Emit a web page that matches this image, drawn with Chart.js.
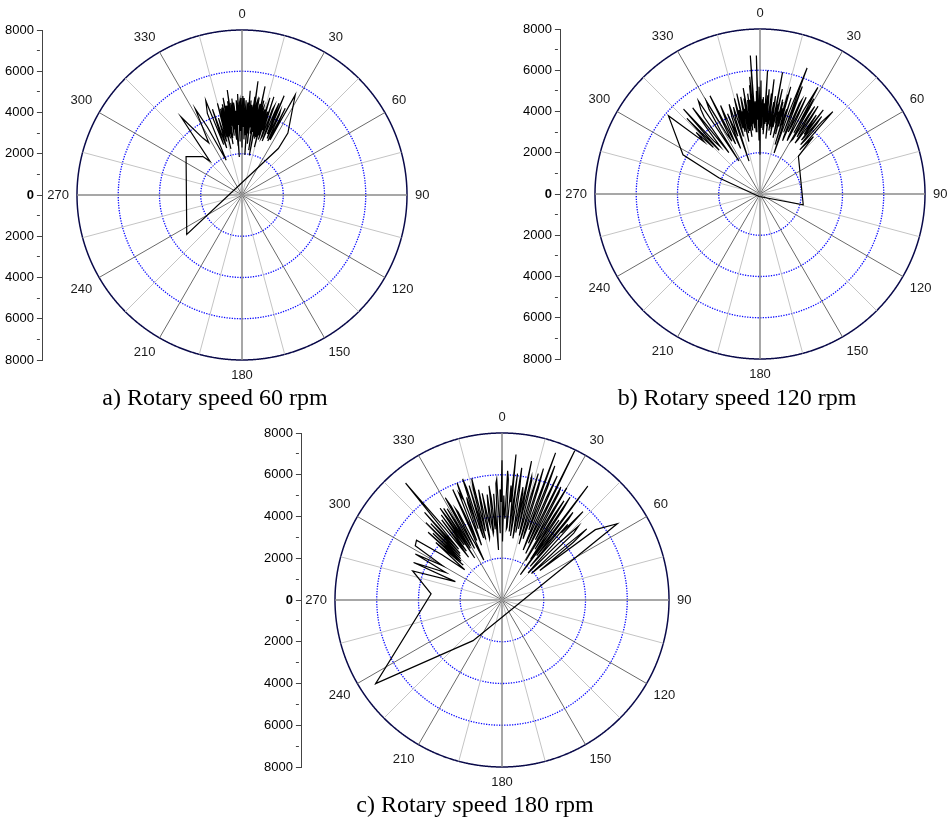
<!DOCTYPE html>
<html>
<head>
<meta charset="utf-8">
<script src="https://cdn.jsdelivr.net/npm/chart.js@4.4.1/dist/chart.umd.min.js"></script>
<style>
  body { margin: 0; width: 950px; height: 821px; background: #fff; position: relative; overflow: hidden; }
  canvas { position: absolute; }
  .caption {
    position: absolute; transform: translateX(-50%); white-space: nowrap;
    font-family: "Liberation Serif", "Times New Roman", serif; font-size: 24px; line-height: 24px; color: #000;
  }
</style>
</head>
<body>
<canvas id="polarA" width="420" height="420"></canvas>
<canvas id="polarB" width="420" height="420"></canvas>
<canvas id="polarC" width="420" height="420"></canvas>
<canvas id="axisA"></canvas>
<canvas id="axisB"></canvas>
<canvas id="axisC"></canvas>
<div class="caption" style="left:215px; top:385px;">a) Rotary speed 60 rpm</div>
<div class="caption" style="left:737px; top:385px;">b) Rotary speed 120 rpm</div>
<div class="caption" style="left:475px; top:792px;">c) Rotary speed 180 rpm</div>
<script>
// angle labels around each dial, and the rings drawn on it
const angleTicks = ['0', '30', '60', '90', '120', '150', '180', '210', '240', '270', '300', '330'];
const ringValues = [2000, 4000, 6000, 8000];

// 60 rpm: angle (deg) / force
const angA = [234.5, 304.5, 314.5, 316.5, 322, 325.5, 327.5, 331.5, 333, 335.5, 337, 339, 340, 341, 342, 343, 344,
  345, 345.5, 346, 346.5, 347, 347.5, 348, 348.5, 349, 349.5, 350, 350.5, 351, 351.5, 352, 352.5, 353, 353.5, 354, 354.5,
  355, 355.5, 356, 356.5, 357, 357.5, 358, 358.5, 359, 359.5,
  0, 0.5, 1, 1.5, 2, 2.5, 3, 3.5, 4, 4.5, 5, 5.5, 6, 6.5, 7, 7.5, 8, 8.5, 9, 9.5,
  10, 10.5, 11, 11.5, 12, 12.5, 13, 13.5, 14, 14.5, 15, 15.5, 16, 16.5, 17, 17.5, 18,
  18.5, 19, 19.5, 20, 20.5, 21, 21.5, 22, 22.5, 23, 23.5, 24, 24.5, 25, 25.5, 26, 26.5, 27, 27.5, 28, 36.5, 38];
const forceA = [3290, 3290, 2660, 2250, 4800, 3350, 3000, 4750, 3700, 1850, 4300, 4900, 2600, 4400, 2400, 3900, 2700,
  4600, 2900, 4300, 2300, 4350, 3100, 4000, 2800, 4800, 3300, 2500, 4400, 3000, 4200, 5140, 2900, 4500, 3200, 4700, 2700,
  4300, 2400, 1850, 4600, 3400, 4900, 2600, 4500, 3100, 4700,
  2300, 4800, 3300, 4400, 2700, 4600, 3500, 4400, 1950, 5070, 3000, 4600, 2500, 4300, 3300, 4800, 5570, 2200, 4500, 3100,
  4800, 1950, 4200, 2900, 5380, 2800, 4700, 3200, 4400, 2400, 4300, 3000, 4900, 2800, 4200, 3300, 5000,
  2900, 3000, 4400, 4600, 2800, 3300, 4300, 4800, 3200, 5230, 3300, 3000, 4500, 4300, 2900, 3100, 4700, 3000, 4000, 5500, 3740, 2860];
// 60 rpm, quarter-degree samples in the dense core
const coreAngA = [346.25, 346.75, 347.25, 347.75, 348.25, 348.75, 349.25, 349.75, 350.25, 350.75,
  351.25, 351.75, 352.25, 352.75, 353.25, 353.75, 354.25, 354.75, 355.25, 355.75,
  356.25, 356.75, 357.25, 357.75, 358.25, 358.75, 359.25, 359.75,
  0.25, 0.75, 1.25, 1.75, 2.25, 2.75, 3.25, 3.75, 4.25, 4.75, 5.25, 5.75, 6.25, 6.75, 7.25, 7.75, 8.25, 8.75,
  9.25, 9.75, 10.25, 10.75, 11.25, 11.75, 12.25, 12.75, 13.25, 13.75, 14.25, 14.75, 15.25, 15.75, 16.25, 16.75, 17.25, 17.75];
const coreForceA = [3800, 4100, 2900, 4500, 3600, 4200, 3000, 4400, 3700, 2800,
  4600, 3400, 4000, 3100, 4300, 3800, 2900, 4500, 3500, 4100,
  3000, 4400, 3600, 4200, 3300, 4600, 3700, 2900,
  4200, 3500, 4700, 3000, 4100, 3800, 2900, 4500, 3400, 4000, 3700, 2800, 4400, 3600, 4100, 3000, 4300, 3500,
  4600, 3200, 4000, 3700, 4500, 3100, 4200, 3600, 2900, 4300, 3500, 4100, 3300, 4400, 3700, 3100, 4200, 3400];

// 120 rpm
const angB = [0, 0.5, 1, 1.5, 2, 2.5, 3, 3.5, 4, 4.5, 5, 5.5, 6, 6.5, 7, 7.5, 8, 8.5, 9, 9.5,
  10, 10.5, 11, 11.5, 12, 12.5, 13, 13.5, 14, 14.5, 15, 15.5, 16, 16.5, 17, 17.5, 18, 18.5, 19,
  20.5, 21, 22, 23, 24, 25, 26, 27, 28.5, 29, 30, 31, 32, 33, 34, 35, 36.5, 37, 38, 39, 40, 41.5, 42, 43, 45.5,
  104, 200,
  291.5, 297, 310.5, 313, 318, 320, 322, 323, 325, 326.5, 327.5, 329, 331, 333, 334, 336, 337, 338, 339, 340, 341.5, 342, 343, 344,
  345, 345.5, 346, 346.5, 347, 347.5, 348, 348.5, 349, 349.5, 350, 350.5, 351, 351.5, 352, 352.5, 353, 353.5, 354, 354.5,
  355, 355.5, 356, 356.5, 357, 357.5, 358, 358.5, 359, 359.5];
const forceB = [1900, 5500, 3200, 4600, 4700, 3100, 2900, 6000, 3400, 4800, 5100, 3300, 2700, 4900, 5600, 3600, 3100, 4500, 4800, 3200,
  2900, 6000, 3300, 4400, 5200, 3500, 2800, 4700, 4600, 3000, 3500, 5000, 5400, 3400, 2500, 4300, 4900, 3100, 2100,
  6520, 3200, 4400, 2800, 5000, 3600, 4300, 2900, 5880, 3400, 4800, 3100, 5000, 3300, 4400, 3200, 3600, 5100, 3500, 4400, 3400, 5330, 2880, 3800, 2610,
  2160, 130,
  2150, 4190, 5840, 3700, 5540, 3000, 5300, 2510, 5000, 5410, 1900, 4800, 3300, 5340, 2700, 4700, 2400, 4200, 3000, 4000, 1680, 3800, 4400, 2900,
  4800, 3300, 4200, 3100, 5000, 3500, 2600, 4300, 4500, 3000, 3200, 4700, 5200, 3300, 2800, 4600, 4900, 3100, 3400, 5300,
  5700, 3600, 6730, 3000, 4500, 3800, 5000, 6720, 2600, 5200];
const coreAngB = [346.25, 346.75, 347.25, 347.75, 348.25, 348.75, 349.25, 349.75, 350.25, 350.75,
  351.25, 351.75, 352.25, 352.75, 353.25, 353.75, 354.25, 354.75, 355.25, 355.75,
  356.25, 356.75, 357.25, 357.75, 358.25, 358.75, 359.25, 359.75,
  0.25, 0.75, 1.25, 1.75, 2.25, 2.75, 3.25, 3.75, 4.25, 4.75, 5.25, 5.75, 6.25, 6.75, 7.25, 7.75, 8.25, 8.75,
  9.25, 9.75, 10.25, 10.75, 11.25, 11.75, 12.25, 12.75, 13.25, 13.75, 14.25, 14.75, 15.25, 15.75, 16.25, 16.75, 17.25, 17.75,
  19.5, 21.5, 22.5, 23.5, 24.5, 25.5, 26.5, 27.5, 29.5, 30.5, 31.5, 32.5, 33.5, 34.5, 35.5, 37.5, 38.5, 39.5, 40.5,
  314, 315, 316, 317, 319, 321, 324, 328, 330, 332, 335, 341, 344.5];
const coreForceB = [3900, 4400, 3200, 4100, 3700, 4800, 3400, 4200, 3800, 3100,
  4500, 3600, 4300, 3300, 4000, 4600, 3500, 4100, 3200, 4700,
  3800, 4300, 3000, 4400, 3600, 4000, 3700, 4500,
  3800, 4300, 3400, 4100, 3700, 4400, 3300, 4200, 3900, 3500, 4600, 3800, 4100, 3400, 4300, 3700, 4000, 3300,
  4500, 3900, 3500, 4200, 3800, 4400, 3600, 4100, 3300, 4000, 3700, 4300, 3400, 3900, 4200, 3600, 4000, 3500,
  4200, 5600, 3000, 4800, 3300, 5200, 3100, 4600, 5300, 3000, 4500, 3600, 5100, 3000, 4700, 3300, 4800, 3100, 4600,
  4300, 3200, 5100, 2900, 3400, 4000, 4600, 3600, 5200, 2900, 3800, 4600, 4100];

// 180 rpm
const angC = [0, 0.5, 1, 2, 3, 4, 5, 5.5, 6, 7, 8, 9, 10, 11, 12, 13, 14, 15, 16, 17, 18, 19,
  20, 21, 22, 23, 24, 25, 26, 27, 28, 29, 30, 31, 32, 33, 34, 35, 36, 37, 38, 39, 40, 41, 42.5, 43, 44,
  45, 46, 47, 48, 49, 50, 51, 52, 53, 56.5,
  215.5, 236.5, 275, 288, 291.5, 293, 296, 298, 300, 302, 305, 307, 309,
  311, 312, 314, 315, 317, 318, 320.5, 322, 323, 324, 326, 327, 329, 330, 331, 332, 333, 334, 335.5, 336, 337, 338, 339,
  340, 341, 342, 343, 344, 345, 346, 347, 348, 349, 350, 351, 352, 353, 354, 355, 356, 357, 358, 359];
const forceC = [6700, 2800, 5000, 3900, 5800, 3500, 4700, 7000, 3300, 6100, 3900, 5400, 3000, 5200, 6800, 3500, 5900, 3200, 6300, 2800, 5600, 3100,
  7500, 3600, 5800, 2600, 6500, 3000, 7950, 2500, 5800, 3300, 6200, 2200, 5600, 2900, 5200, 2400, 1500, 6830, 2700, 5400, 2100, 4800, 5740, 2400, 1800,
  3900, 5100, 4700, 1900, 2600, 5300, 4400, 2300, 5600, 6620,
  2390, 7260, 3410, 4500, 2400, 4600, 3000, 4700, 3300, 4900, 5000, 3600, 2300,
  4200, 2500, 4600, 2800, 5000, 3000, 7260, 2600, 4800, 2900, 5300, 2400, 5100, 3000, 5600, 2800, 4900, 3300, 2100, 5800, 3100, 5500, 6000,
  3400, 5200, 6100, 3500, 5700, 3000, 6000, 3900, 5400, 3100, 4400, 3600, 5100, 3300, 4900, 3800, 2400, 5600, 4000, 5300];
const coreAngC = [311.5, 312.5, 313.5, 314.5, 315.5, 316.5, 317.5, 318.5, 319.5, 321.5, 322.5,
  323.5, 324.5, 325.5, 326.5, 327.5, 328.5, 329.5, 330.5, 331.5, 332.5, 333.5, 334.5,
  336.5, 337.5, 338.5, 339.5, 340.5, 341.5, 342.5, 343.5, 344.5, 345.5, 346.5, 347.5, 348.5, 349.5,
  350.5, 351.5, 352.5, 353.5, 354.5, 355.5, 356.5, 357.5, 358.5, 359.5,
  1.5, 2.5, 3.5, 4.5, 6.5, 7.5, 8.5, 9.5, 10.5, 11.5, 12.5, 13.5, 14.5, 15.5, 16.5, 17.5, 18.5, 19.5, 20.5, 21.5,
  22.5, 23.5, 24.5, 25.5, 26.5, 27.5, 28.5, 29.5, 30.5, 31.5, 32.5, 33.5, 34.5, 35.5, 36.5, 37.5, 38.5, 39.5, 40.5, 41.5];
const coreForceC = [3300, 4800, 2700, 3600, 5200, 2900, 4100, 5600, 3200, 4400, 3100,
  3500, 5000, 3200, 4600, 5200, 2900, 4400, 3300, 5100, 3600, 4700, 3000,
  4500, 3700, 5300, 2800, 4900, 3600, 5600, 3100, 4300, 5500, 3400, 4800, 3000, 5200,
  3800, 4600, 3200, 5500, 3400, 5100, 3600, 5800, 3200, 4700,
  4200, 6200, 3400, 5500, 4600, 3100, 6400, 3700, 5500, 3300, 4900, 6100, 3600, 5200, 3800, 6600, 3400, 5000, 3900, 6900,
  3200, 5400, 3700, 4600, 3500, 6100, 3900, 5000, 3100, 4800, 3600, 5900, 3000, 4700, 2900, 4100, 3300, 5000, 2600, 4300];

Chart.defaults.font.family = '"Liberation Sans", Arial, sans-serif';
Chart.defaults.color = '#1a1a1a';

const PER_DEG = 4;              // quarter-degree slots around the dial
const STEPS = 360 * PER_DEG;

function buildRing(angles, forces) {
  const ring = new Array(STEPS).fill(null);
  angles.forEach((a, i) => { ring[Math.round(a * PER_DEG) % STEPS] = forces[i]; });
  return ring;
}

function drawPolar(id, angles, forces, cx, cy, R) {
  const canvas = document.getElementById(id);
  const labelEvery = 30 * PER_DEG;
  const labels = Array.from({ length: STEPS }, (_, i) => (i % labelEvery === 0 ? angleTicks[i / labelEvery] : ''));
  const chart = new Chart(canvas, {
    type: 'radar',
    data: {
      labels: labels,
      datasets: [{
        data: buildRing(angles, forces),
        borderColor: '#000',
        borderWidth: 1.2,
        pointRadius: 0,
        fill: false,
        spanGaps: true,
        tension: 0
      }]
    },
    options: {
      responsive: false,
      animation: false,
      events: [],
      layout: { padding: 0 },
      plugins: { legend: { display: false }, tooltip: { enabled: false } },
      scales: {
        r: {
          min: 0,
          max: ringValues[ringValues.length - 1],
          afterBuildTicks: scale => { scale.ticks = [0].concat(ringValues).map(v => ({ value: v })); },
          ticks: { display: false },
          grid: {
            color: ctx => (ctx.tick.value === 8000 ? '#0a0a4a' : '#0c0cff'),
            lineWidth: ctx => (ctx.tick.value === 8000 ? 1.5 : 1.3)
          },
          border: { dash: ctx => (ctx.tick.value === 8000 ? [] : [1.3, 1.3]) },
          angleLines: {
            color: ctx => (ctx.index % (90 * PER_DEG) === 0 ? '#8a8a8a'
              : ctx.index % (30 * PER_DEG) === 0 ? '#6a6a6a' : '#c4c4c4'),
            lineWidth: ctx => (ctx.index % (15 * PER_DEG) !== 0 ? 0
              : ctx.index % (90 * PER_DEG) === 0 ? 1.5 : 1)
          },
          pointLabels: { font: { size: 13 }, color: '#1a1a1a', padding: 8 }
        }
      }
    }
  });
  // squeeze the padding until the outer ring has the radius we want
  let pad = 0;
  for (let k = 0; k < 5; k++) {
    const diff = chart.scales.r.drawingArea - R;
    if (Math.abs(diff) < 0.3) break;
    pad += diff;
    chart.options.layout.padding = pad;
    chart.update();
  }
  const r = chart.scales.r;
  canvas.style.left = Math.round(cx - r.xCenter) + 'px';
  canvas.style.top = Math.round(cy - r.yCenter) + 'px';
}

function drawAxis(id, axisX, cy, R) {
  const canvas = document.getElementById(id);
  const pad = 12;
  canvas.width = 120;
  canvas.height = Math.round(2 * R) + 2 * pad;
  const chart = new Chart(canvas, {
    type: 'scatter',
    data: { datasets: [] },
    options: {
      responsive: false,
      animation: false,
      events: [],
      layout: { padding: { top: pad, bottom: pad, left: 0, right: 0 } },
      plugins: { legend: { display: false }, tooltip: { enabled: false } },
      scales: {
        x: { display: false, min: 0, max: 1 },
        y: {
          position: 'left',
          min: -8000,
          max: 8000,
          ticks: {
            stepSize: 1000,
            autoSkip: false,
            padding: 3,
            color: '#000',
            font: ctx => ({ size: 13, weight: ctx.tick && ctx.tick.value === 0 ? 'bold' : 'normal' }),
            callback: v => (v % 2000 === 0 ? String(Math.abs(v)) : '')
          },
          grid: {
            drawOnChartArea: false,
            drawTicks: true,
            tickLength: 6,
            tickColor: '#444',
            tickBorderDash: ctx => (ctx.tick && ctx.tick.value % 2000 !== 0 ? [3, 20] : [])
          },
          border: { color: '#444', width: 1 }
        }
      }
    }
  });
  const y = chart.scales.y;
  canvas.style.left = Math.round(axisX - y.right) + 'px';
  canvas.style.top = Math.round(cy - R - y.top) + 'px';
}

drawPolar('polarA', angA.concat(coreAngA), forceA.concat(coreForceA), 242, 195, 165);
drawPolar('polarB', angB.concat(coreAngB), forceB.concat(coreForceB), 759.5, 193.5, 165);
drawPolar('polarC', angC.concat(coreAngC), forceC.concat(coreForceC), 501.5, 600, 167);
drawAxis('axisA', 43, 195, 165);
drawAxis('axisB', 561, 193.5, 165);
drawAxis('axisC', 302, 600, 167);
</script>
</body>
</html>
